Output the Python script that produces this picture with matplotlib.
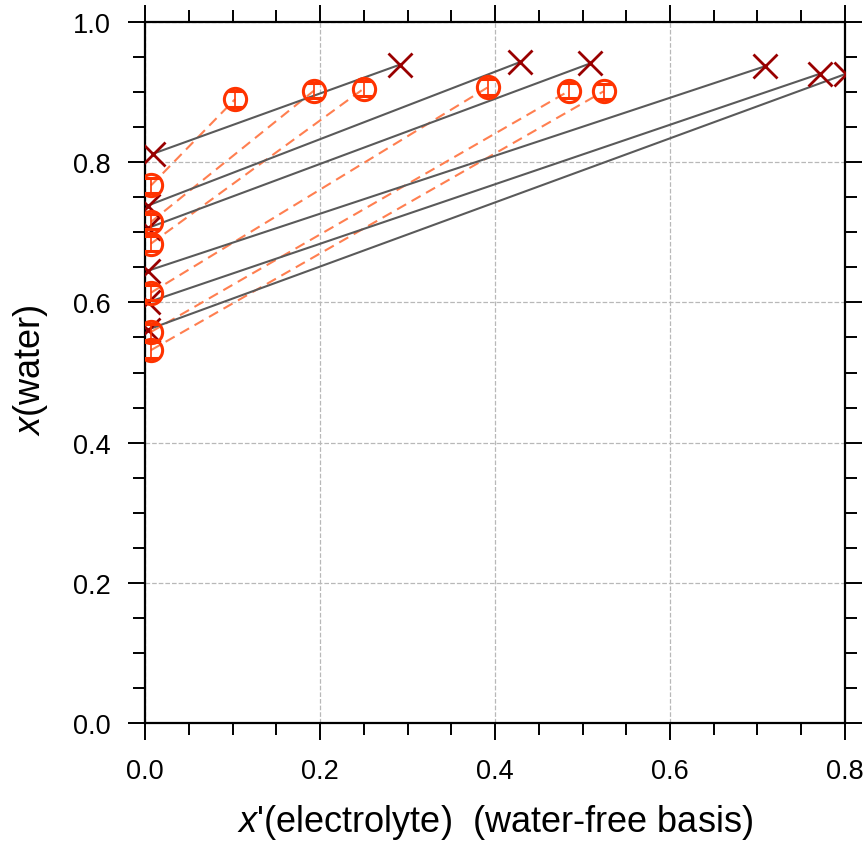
import matplotlib
matplotlib.use("Agg")
import matplotlib.pyplot as plt
import numpy as np
from matplotlib.ticker import MultipleLocator, FormatStrFormatter

plt.rcParams['font.family'] = ['Liberation Sans', 'DejaVu Sans']
plt.rcParams['mathtext.fontset'] = 'custom'
plt.rcParams['mathtext.it'] = 'Liberation Sans:italic'
plt.rcParams['mathtext.rm'] = 'Liberation Sans'

# tie lines, experimental (crosses)
tie_x_left = [0.009, 0.003, 0.003, 0.003, 0.003, 0.003]
tie_y_left = [0.812, 0.738, 0.706, 0.645, 0.600, 0.561]
tie_x_right = [0.291, 0.429, 0.509, 0.709, 0.771, 0.801]
tie_y_right = [0.939, 0.943, 0.941, 0.937, 0.926, 0.926]

# tie lines, model (circles)
mod_x_left = [0.007, 0.007, 0.007, 0.007, 0.007, 0.007]
mod_y_left = [0.767, 0.715, 0.684, 0.614, 0.558, 0.532]
mod_x_right = [0.103, 0.193, 0.250, 0.392, 0.485, 0.524]
mod_y_right = [0.890, 0.902, 0.905, 0.907, 0.902, 0.901]
mod_err = 0.011

fig = plt.figure(figsize=(8.67, 8.45), dpi=100)
ax = fig.add_axes([145/867, 1-724/845, 700/867, 701/845])

for i in range(len(tie_x_left)):
    ax.plot([tie_x_left[i], tie_x_right[i]], [tie_y_left[i], tie_y_right[i]],
            '-', color='#5a5a5a', lw=1.5, zorder=3)

for i in range(len(mod_x_left)):
    ax.plot([mod_x_left[i], mod_x_right[i]], [mod_y_left[i], mod_y_right[i]],
            color='#ff7f50', lw=1.5, ls=(0, (5, 3)), zorder=2)

cx = tie_x_left + tie_x_right
cy = tie_y_left + tie_y_right
ax.plot(cx, cy, 'x', color='#990000', ms=17, mew=2, ls='none', zorder=4)

ox = mod_x_left + mod_x_right
oy = mod_y_left + mod_y_right
ax.errorbar(ox, oy, yerr=mod_err, fmt='o', mfc='none', mec='#ff3300', ms=16, mew=2.2,
            ecolor='#ff3300', elinewidth=1.2, capsize=6, capthick=1.5, zorder=5)

ax.set_xlim(0, 0.8)
ax.set_ylim(0, 1.0)
ax.xaxis.set_major_locator(MultipleLocator(0.2))
ax.xaxis.set_minor_locator(MultipleLocator(0.05))
ax.yaxis.set_major_locator(MultipleLocator(0.2))
ax.yaxis.set_minor_locator(MultipleLocator(0.05))
ax.xaxis.set_major_formatter(FormatStrFormatter('%.1f'))
ax.yaxis.set_major_formatter(FormatStrFormatter('%.1f'))

ax.grid(True, which='major', ls='--', color='#b8b8b8', lw=0.9)
ax.set_axisbelow(True)

ax.tick_params(which='both', direction='out', top=True, right=True,
               labeltop=False, labelright=False, width=1.4, colors='black')
ax.tick_params(which='major', length=12, labelsize=19.5, pad=13)
ax.tick_params(which='minor', length=8.5)
for s in ax.spines.values():
    s.set_linewidth(1.6)

fig.text(495/867, 1-823/845, "$x$'(electrolyte)  (water-free basis)", fontsize=26,
         ha='center', va='center')
fig.text(31/867, 1-370/845, "$x$(water)", fontsize=26, rotation=90,
         ha='center', va='center')

fig.savefig('out.png', dpi=100)
